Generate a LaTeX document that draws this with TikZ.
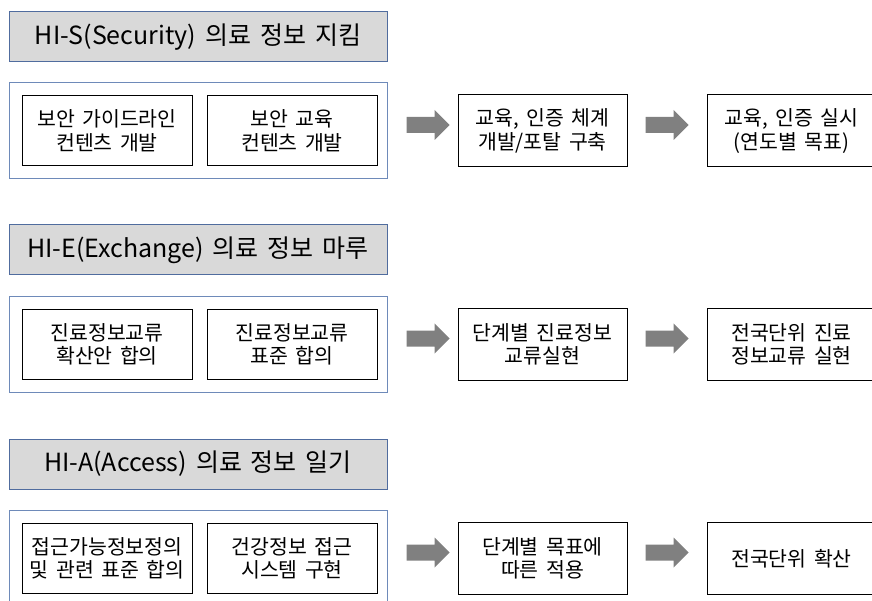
\documentclass[tikz,border=0pt]{standalone}
\usepackage{fontspec}
\setmainfont[WordSpace=1.6]{Noto Sans CJK KR}
\usetikzlibrary{calc}
\definecolor{hdrfill}{RGB}{217,217,217}
\definecolor{hdrline}{RGB}{80,108,158}
\definecolor{outline}{RGB}{110,138,185}
\definecolor{arrowgray}{RGB}{128,128,128}
\tikzset{
  hdr/.style={draw=hdrline, line width=1pt, fill=hdrfill, minimum width=378pt, minimum height=50pt, inner sep=0pt, font=\fontsize{25}{29}\selectfont},
  outerbox/.style={draw=outline, line width=1pt, fill=white, minimum width=378pt, minimum height=96pt, inner sep=0pt},
  stepbox/.style={draw=black, line width=1pt, fill=white, minimum width=170pt, minimum height=70pt, inner sep=0pt, align=center, font=\fontsize{20.5}{23.5}\selectfont},
  resbox/.style={draw=black, line width=1pt, fill=white, minimum width=169pt, minimum height=72pt, inner sep=0pt, align=center, font=\fontsize{20.5}{23.5}\selectfont},
  arrowfill/.style={fill=arrowgray}
}
\newcommand\blockarrow[2]{%
  \fill[arrowfill] let \p1=#1, \p2=#2 in
    (\x1,\y1+8pt) -- (\x2-15pt,\y1+8pt) -- (\x2-15pt,\y1+15pt) -- (\x2,\y1)
    -- (\x2-15pt,\y1-15pt) -- (\x2-15pt,\y1-8pt) -- (\x1,\y1-8pt) -- cycle;}
\begin{document}
\begin{tikzpicture}[x=1pt,y=-1pt]
\useasboundingbox (0,0) rectangle (872,601);
% ---- Section S ----
\node[hdr] (h1) at (198,37) {HI-S(Security) 의료 정보 지킴};
\node[outerbox] (o1) at (198,131) {};
\node[stepbox] (s1a) at (107,131) {보안 가이드라인\\컨텐츠 개발};
\node[stepbox] (s1b) at (292,131) {보안 교육\\컨텐츠 개발};
\node[resbox] (s1c) at (542.5,131) {교육, 인증 체계\\개발/포탈 구축};
\node[resbox] (s1d) at (791.5,131) {교육, 인증 실시\\(연도별 목표)};
\coordinate (a1s) at ($(o1.east |- s1c.center)+(19,-6)$);
\coordinate (a1e) at ($(s1c.west)+(-8,-6)$);
\coordinate (a2s) at ($(s1c.east)+(18,-6)$);
\coordinate (a2e) at ($(s1d.west)+(-18,-6)$);
\blockarrow{(a1s)}{(a1e)}
\blockarrow{(a2s)}{(a2e)}
% ---- Section E ----
\node[hdr] (h2) at (198,250) {HI-E(Exchange) 의료 정보 마루};
\node[outerbox] (o2) at (198,344.5) {};
\node[stepbox] (s2a) at (107,344.5) {진료정보교류\\확산안 합의};
\node[stepbox] (s2b) at (292,344.5) {진료정보교류\\표준 합의};
\node[resbox] (s2c) at (542.5,344.5) {단계별 진료정보\\교류실현};
\node[resbox] (s2d) at (791.5,344.5) {전국단위 진료\\정보교류 실현};
\coordinate (b1s) at ($(o2.east |- s2c.center)+(19,-6)$);
\coordinate (b1e) at ($(s2c.west)+(-8,-6)$);
\coordinate (b2s) at ($(s2c.east)+(18,-6)$);
\coordinate (b2e) at ($(s2d.west)+(-18,-6)$);
\blockarrow{(b1s)}{(b1e)}
\blockarrow{(b2s)}{(b2e)}
% ---- Section A ----
\node[hdr] (h3) at (198,464) {HI-A(Access) 의료 정보 일기};
\node[outerbox] (o3) at (198,558) {};
\node[stepbox] (s3a) at (107,558.5) {접근가능정보정의\\및 관련 표준 합의};
\node[stepbox] (s3b) at (292,558.5) {건강정보 접근\\시스템 구현};
\node[resbox] (s3c) at (542.5,558.5) {단계별 목표에\\따른 적용};
\node[resbox] (s3d) at (791.5,558.5) {전국단위 확산};
\coordinate (c1s) at ($(o3.east |- s3c.center)+(19,-6)$);
\coordinate (c1e) at ($(s3c.west)+(-8,-6)$);
\coordinate (c2s) at ($(s3c.east)+(18,-6)$);
\coordinate (c2e) at ($(s3d.west)+(-18,-6)$);
\blockarrow{(c1s)}{(c1e)}
\blockarrow{(c2s)}{(c2e)}
\end{tikzpicture}
\end{document}
